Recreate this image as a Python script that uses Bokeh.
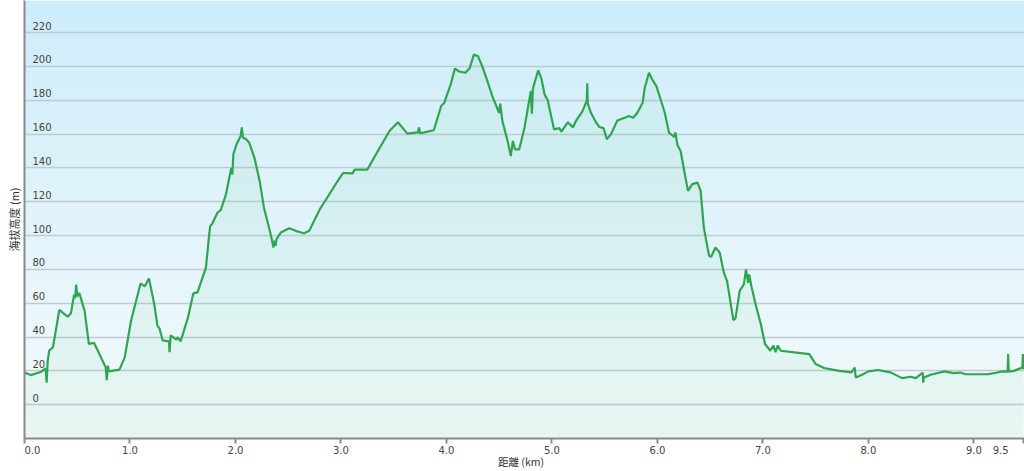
import numpy as np
from bokeh.plotting import figure
from bokeh.models import FixedTicker, Range1d
from bokeh.embed import file_html
from bokeh.resources import INLINE
from bokeh.core.properties import value

dist_km = [0.00, 0.06, 0.16, 0.20, 0.21, 0.22, 0.235, 0.27, 0.33, 0.41, 0.44, 0.47, 0.48, 0.49, 0.50,
           0.52, 0.57, 0.61, 0.66, 0.71, 0.77, 0.78, 0.79, 0.80, 0.90, 0.95, 1.01, 1.10, 1.14, 1.18,
           1.23, 1.26, 1.28, 1.31, 1.37, 1.375, 1.385, 1.44, 1.45, 1.48, 1.55, 1.60, 1.64, 1.69, 1.72,
           1.75, 1.76, 1.78, 1.83, 1.86, 1.91, 1.96, 1.97, 1.98, 2.01, 2.05, 2.06, 2.07, 2.10, 2.13,
           2.18, 2.23, 2.27, 2.31, 2.34, 2.36, 2.37, 2.38, 2.39, 2.43, 2.51, 2.57, 2.65, 2.70, 2.76,
           2.80, 2.87, 2.95, 3.02, 3.11, 3.13, 3.25, 3.35, 3.46, 3.54, 3.58, 3.63, 3.73, 3.74, 3.75,
           3.79, 3.88, 3.95, 3.98, 4.04, 4.08, 4.12, 4.18, 4.22, 4.26, 4.30, 4.34, 4.39, 4.44, 4.50,
           4.51, 4.53, 4.58, 4.61, 4.63, 4.65, 4.69, 4.74, 4.80, 4.81, 4.82, 4.87, 4.90, 4.93, 4.96,
           5.02, 5.07, 5.09, 5.15, 5.20, 5.23, 5.29, 5.33, 5.335, 5.34, 5.37, 5.42, 5.45, 5.49, 5.52,
           5.56, 5.62, 5.69, 5.73, 5.77, 5.81, 5.86, 5.88, 5.92, 5.95, 5.99, 6.03, 6.07, 6.11, 6.16,
           6.17, 6.19, 6.22, 6.26, 6.29, 6.33, 6.38, 6.41, 6.44, 6.49, 6.51, 6.55, 6.59, 6.63, 6.66,
           6.72, 6.74, 6.78, 6.82, 6.84, 6.86, 6.87, 6.89, 6.93, 6.98, 7.02, 7.07, 7.10, 7.12, 7.14,
           7.17, 7.30, 7.44, 7.50, 7.58, 7.71, 7.84, 7.87, 7.88, 7.94, 8.00, 8.09, 8.21, 8.32, 8.40,
           8.45, 8.515, 8.52, 8.525, 8.59, 8.72, 8.81, 8.87, 8.92, 9.13, 9.22, 9.27, 9.32, 9.325, 9.33,
           9.38, 9.46, 9.465, 9.47]
elev_m = [19, 17.5, 19.5, 21.5, 13, 26, 32, 34, 56, 52, 54, 65, 63, 71, 64,
          66, 55.5, 36, 36.5, 30, 22, 14.5, 23, 19.7, 20.7, 28, 49.6, 71.7, 70, 74.6,
          59.5, 46.7, 45, 38, 37.4, 31, 41, 38.4, 40, 37.4, 51.6, 65.8, 66.4, 75.6, 81,
          100, 105.7, 107, 113.6, 115, 124.4, 140, 136, 148, 154, 159, 164, 158, 157, 155,
          146, 132, 116.5, 106.7, 99, 93, 97, 94, 98, 101.8, 104.3, 102.8, 101.4, 102.8, 110.6,
          115.6, 122.5, 130.4, 137, 136.8, 139, 139, 150, 161.8, 167, 164, 160.3, 161, 164, 160.5,
          161, 162.3, 176.6, 178.6, 189.4, 198.7, 197, 196.3, 199, 207, 206, 200, 191, 181.5, 172.6,
          178, 167.7, 156, 147, 156, 151, 151, 163.8, 185.5, 172, 187, 197.7, 193, 183.5, 180,
          162.8, 163.5, 161.5, 167, 164, 168, 173.6, 179.6, 190, 178, 172.6, 166.7, 164.2, 163.5, 157,
          160, 168, 169.7, 170.7, 169.7, 172.6, 178.6, 187.4, 196.3, 192.4, 188.4, 180.6, 172.6, 160.8, 158.3,
          161, 153.6, 150, 136.3, 126.4, 130.4, 131.3, 126.4, 104.7, 88, 87.5, 92.9, 90, 78.1, 73.2,
          50, 51, 67.3, 71.3, 80, 72, 77, 70.3, 59.5, 47.7, 35.9, 32, 35, 31, 35,
          31.9, 30.9, 29.9, 24, 21.7, 20.1, 19.1, 22, 16, 17.7, 19.7, 20.5, 19.1, 15.7, 16.5,
          15.7, 19, 13, 16, 17.7, 19.7, 18.7, 19, 18, 18, 19, 19.7, 19.5, 30, 19.5,
          20, 22, 30, 21]

y_ticks = [0, 20, 40, 60, 80, 100, 120, 140, 160, 180, 200, 220]
y_tick_labels = [str(t) for t in y_ticks]
x_ticks = [0, 1, 2, 3, 4, 5, 6, 7, 8, 9, 9.47]
x_tick_labels = ["0.0", "1.0", "2.0", "3.0", "4.0", "5.0", "6.0", "7.0", "8.0", "9.0", "9.5"]
x_title = "距離 (km)"
y_title = "海拔高度 (m)"

X0, X1 = 0, 9.48
Y0, Y1 = -20, 239

p = figure(width=1024, height=471, output_backend="svg", toolbar_location=None,
           x_range=Range1d(X0, X1), y_range=Range1d(Y0, Y1))
p.min_border_left = 24
p.min_border_right = 0
p.min_border_top = 0
p.min_border_bottom = 33
p.outline_line_color = None
p.background_fill_color = "white"
p.border_fill_color = "white"

# background vertical gradient (light blue at top to near-white at bottom)
n = 120
top = np.array([206, 237, 250])
bot = np.array([245, 251, 252])
t = np.linspace(0, 1, n)[:, None]
cols = (bot * (1 - t) + top * t).astype(np.uint32)
img = np.empty((n, 1), dtype=np.uint32)
view = img.view(dtype=np.uint8).reshape((n, 1, 4))
view[:, 0, 0] = cols[:, 0]
view[:, 0, 1] = cols[:, 1]
view[:, 0, 2] = cols[:, 2]
view[:, 0, 3] = 255
p.image_rgba(image=[img], x=X0, y=Y0, dw=X1 - X0, dh=Y1 - Y0, level="image")

# grid
p.xgrid.visible = False
p.ygrid.ticker = FixedTicker(ticks=y_ticks)
p.ygrid.grid_line_color = "#bfcbd0"
p.ygrid.grid_line_width = 1.5

# area and line
p.varea(x=dist_km, y1=[Y0] * len(dist_km), y2=elev_m, fill_color="#44c880", fill_alpha=0.07)
p.line(dist_km, elev_m, line_color="#2fa552", line_width=2.2)

# y tick labels drawn inside the plot, above the gridlines
p.text(x=[X0] * len(y_ticks), y=y_ticks, text=y_tick_labels, x_offset=8, y_offset=-3,
       text_baseline="bottom", text_align="left", text_font=value("DejaVu Sans"),
       text_font_size="10px", text_color="#444444")

# y axis: line + title only
p.yaxis.ticker = FixedTicker(ticks=[])
p.yaxis.major_label_standoff = 0
p.yaxis.major_tick_out = 0
p.yaxis.major_tick_in = 0
p.yaxis.minor_tick_out = 0
p.yaxis.minor_tick_in = 0
p.yaxis.axis_line_color = "#8a8a8a"
p.yaxis.axis_line_width = 2
p.yaxis.axis_label = y_title
p.yaxis.axis_label_text_font = "Noto Sans CJK JP"
p.yaxis.axis_label_text_font_size = "11px"
p.yaxis.axis_label_text_font_style = "normal"
p.yaxis.axis_label_text_color = "#333333"
p.yaxis.axis_label_standoff = 3

# x axis (first label pushed right, last label pushed left, as in the reference)
nb = "\u00a0"
overrides = {}
for i, (tk, lb) in enumerate(zip(x_ticks, x_tick_labels)):
    if i == 0:
        overrides[tk] = nb * 5 + lb
    elif i == len(x_ticks) - 1:
        overrides[tk] = lb + nb * 5
    else:
        overrides[tk] = lb
p.xaxis.ticker = FixedTicker(ticks=x_ticks)
p.xaxis.major_label_overrides = overrides
p.xaxis.major_label_text_font = "DejaVu Sans"
p.xaxis.major_label_text_font_size = "10px"
p.xaxis.major_label_text_color = "#444444"
p.xaxis.major_label_standoff = 1
p.xaxis.major_tick_out = 5
p.xaxis.major_tick_in = 0
p.xaxis.minor_tick_out = 0
p.xaxis.minor_tick_in = 0
p.xaxis.major_tick_line_color = "#8a8a8a"
p.xaxis.major_tick_line_width = 2
p.xaxis.axis_line_color = "#8a8a8a"
p.xaxis.axis_line_width = 2
p.xaxis.axis_label = x_title + nb * 3
p.xaxis.axis_label_text_font = "Noto Sans CJK JP"
p.xaxis.axis_label_text_font_size = "10.5px"
p.xaxis.axis_label_text_font_style = "normal"
p.xaxis.axis_label_text_color = "#333333"
p.xaxis.axis_label_standoff = -5

open("out.html", "w").write(file_html(p, INLINE))
